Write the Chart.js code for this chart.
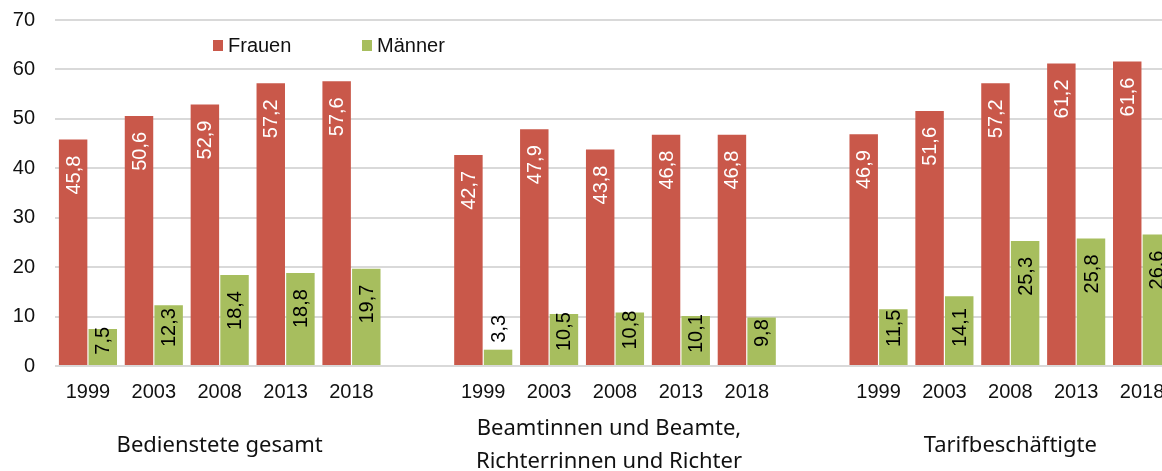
<!DOCTYPE html>
<html>
<head>
<meta charset="utf-8">
<script src="https://cdn.jsdelivr.net/npm/chart.js@4/dist/chart.umd.min.js"></script>
<style>
  html, body { margin: 0; padding: 0; background: #fff; overflow: hidden; }
  #wrap { position: relative; width: 1176px; height: 471px; }
</style>
</head>
<body>
<div id="wrap"><canvas id="barChart"></canvas></div>
<script>
// chart data
const years = ['1999', '2003', '2008', '2013', '2018'];
const groupNames = [
    ['Bedienstete gesamt'],
    ['Beamtinnen und Beamte,', 'Richterrinnen und Richter'],
    ['Tarifbeschäftigte']
];
const frauenGesamt = [45.8, 50.6, 52.9, 57.2, 57.6];
const maennerGesamt = [7.5, 12.3, 18.4, 18.8, 19.7];
const frauenBeamte = [42.7, 47.9, 43.8, 46.8, 46.8];
const maennerBeamte = [3.3, 10.5, 10.8, 10.1, 9.8];
const frauenTarif = [46.9, 51.6, 57.2, 61.2, 61.6];
const maennerTarif = [11.5, 14.1, 25.3, 25.8, 26.6];
const yTicks = [0, 10, 20, 30, 40, 50, 60, 70];

const RED = '#C9584A';
const GREEN = '#A7BE5E';

// build category list with an empty slot between the groups
const labels = [], frauen = [], maenner = [], groupMid = [];
[[frauenGesamt, maennerGesamt], [frauenBeamte, maennerBeamte], [frauenTarif, maennerTarif]].forEach((pair, g) => {
    if (g > 0) { labels.push(''); frauen.push(null); maenner.push(null); }
    groupMid.push(labels.length + 2);
    years.forEach((y, i) => {
        labels.push(y);
        frauen.push(pair[0][i]);
        maenner.push(pair[1][i]);
    });
});

const fmt = v => v.toFixed(1).replace('.', ',');

// rotated value labels on the bars
const valueLabels = {
    id: 'valueLabels',
    afterDatasetsDraw(chart) {
        const ctx = chart.ctx;
        ctx.save();
        ctx.font = '20px "Liberation Sans", Arial, sans-serif';
        ctx.textBaseline = 'middle';
        chart.data.datasets.forEach((ds, di) => {
            const meta = chart.getDatasetMeta(di);
            meta.data.forEach((bar, i) => {
                const v = ds.data[i];
                if (v === null || v === undefined) return;
                const text = fmt(v);
                const w = ctx.measureText(text).width;
                const h = bar.base - bar.y;
                ctx.save();
                if (h < w) {
                    ctx.fillStyle = '#000';
                    ctx.translate(bar.x, bar.y - 7);
                    ctx.rotate(-Math.PI / 2);
                    ctx.textAlign = 'left';
                } else {
                    const pad = Math.max(-2, Math.min(16, h - w - 18));
                    ctx.fillStyle = di === 0 ? '#fff' : '#000';
                    ctx.translate(bar.x, bar.y + pad);
                    ctx.rotate(-Math.PI / 2);
                    ctx.textAlign = 'right';
                }
                ctx.fillText(text, 0, 1);
                ctx.restore();
            });
        });
        ctx.restore();
    }
};

// legend inside the plot and group names under the years
const extras = {
    id: 'extras',
    afterDraw(chart) {
        const ctx = chart.ctx;
        const xs = chart.scales.x;
        ctx.save();
        // legend
        ctx.font = '20px "Liberation Sans", Arial, sans-serif';
        ctx.textBaseline = 'middle';
        ctx.textAlign = 'left';
        const legendX = [213, 362];
        chart.data.datasets.forEach((ds, i) => {
            ctx.fillStyle = ds.backgroundColor;
            ctx.fillRect(legendX[i], 40, 10, 11);
            ctx.fillStyle = '#111';
            ctx.fillText(ds.label, legendX[i] + 15, 46);
        });
        // group names
        ctx.font = '22px "Noto Sans", "Open Sans", sans-serif';
        ctx.textAlign = 'center';
        ctx.textBaseline = 'alphabetic';
        ctx.fillStyle = '#111';
        groupNames.forEach((lines, g) => {
            const cx = xs.getPixelForValue(groupMid[g]);
            if (lines.length === 1) {
                ctx.fillText(lines[0], cx, 452);
            } else {
                lines.forEach((line, k) => ctx.fillText(line, cx - 6, 435 + k * 33));
            }
        });
        ctx.restore();
    }
};

document.addEventListener('DOMContentLoaded', function () {
    const ctx = document.getElementById('barChart').getContext('2d');
    new Chart(ctx, {
        type: 'bar',
        data: {
            labels: labels,
            datasets: [
                { label: 'Frauen', data: frauen, backgroundColor: RED },
                { label: 'Männer', data: maenner, backgroundColor: GREEN }
            ]
        },
        options: {
            responsive: true,
            maintainAspectRatio: false,
            animation: false,
            devicePixelRatio: 1,
            layout: { padding: { top: 20, right: 1, left: 0, bottom: 0 } },
            datasets: { bar: { categoryPercentage: 0.9, barPercentage: 0.96, skipNull: false } },
            plugins: {
                legend: { display: false },
                tooltip: { enabled: false }
            },
            scales: {
                x: {
                    grid: { display: false },
                    border: { display: false },
                    ticks: {
                        autoSkip: false,
                        maxRotation: 0,
                        padding: 6,
                        color: '#111',
                        font: { family: '"Liberation Sans", Arial, sans-serif', size: 20 }
                    },
                    afterFit: s => { s.height = 105; s.paddingLeft = 0; s.paddingRight = 0; }
                },
                y: {
                    min: 0,
                    max: 70,
                    afterBuildTicks: s => { s.ticks = yTicks.map(v => ({ value: v })); },
                    grid: { color: '#D9D9D9', lineWidth: 2, drawTicks: false },
                    border: { display: false },
                    ticks: {
                        padding: 20,
                        color: '#111',
                        font: { family: '"Liberation Sans", Arial, sans-serif', size: 20 }
                    },
                    afterFit: s => { s.width = 55; s.paddingTop = 0; s.paddingBottom = 0; }
                }
            }
        },
        plugins: [valueLabels, extras]
    });
});
</script>
</body>
</html>
